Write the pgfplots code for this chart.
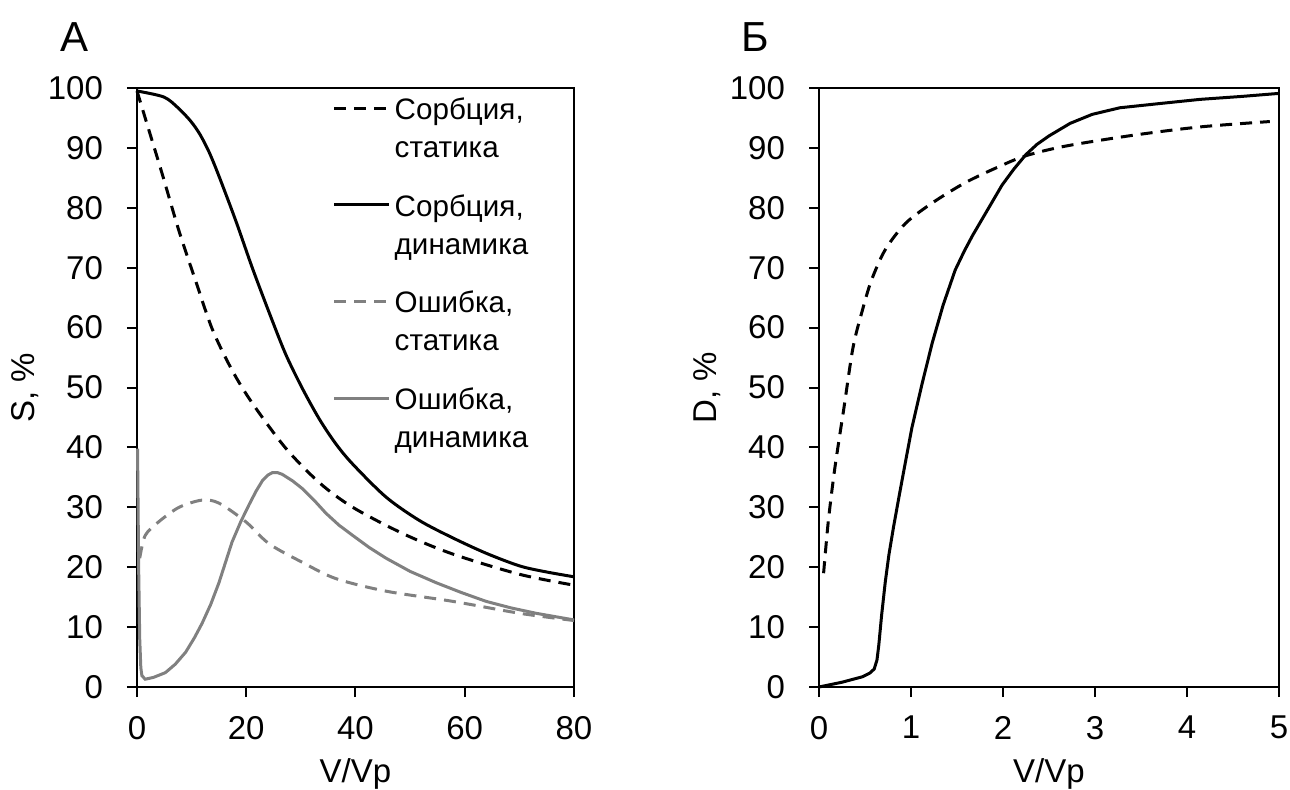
\documentclass[border=0pt]{standalone}
\usepackage{pgfplots}
\pgfplotsset{compat=1.18}
\usepackage{fontspec}
\setmainfont{Liberation Sans}
\definecolor{errgray}{RGB}{128,128,128}
\begin{document}
\begin{tikzpicture}[x=1pt,y=1pt]
\useasboundingbox (-68.5,-51) rectangle (576.5,343.5);
\pgfplotsset{
  myaxis/.style={
    scale only axis,
    height=299.5pt,
    ymin=0, ymax=100,
    ytick={0,10,...,100},
    tick align=outside,
    tick pos=left,
    major tick length=5pt,
    axis line style={line width=1pt},
    every tick/.style={line width=1pt, black},
    tick label style={font=\fontsize{16.5}{19}\selectfont},
    label style={font=\fontsize{16.5}{19}\selectfont},
    /pgf/number format/assume math mode=true,
    yticklabel style={xshift=-8.5pt},
    xticklabel style={yshift=-6pt},
    xlabel={V/Vp},
    xlabel style={at={(axis description cs:0.5,-0.145)}, anchor=center},
    clip=false,
  },
  dashblack/.style={black, line width=1.5pt, dash pattern=on 6pt off 4pt},
  solidblack/.style={black, line width=1.5pt},
}
\begin{axis}[myaxis,
  at={(0,0)}, anchor=origin,
  width=218.5pt,
  xmin=0, xmax=80, xtick={0,20,...,80},
  ylabel={S, \%},
  ylabel style={at={(axis description cs:-0.256,0.5)}, anchor=center},
  legend style={draw=none, fill=none, at={(axis description cs:0.447,0.991)}, anchor=north west,
    font=\fontsize{14.8}{19}\selectfont, row sep=13pt,
    cells={anchor=west, align=left}, inner sep=0pt},
  legend image code/.code={\draw[#1] (0pt,10.5pt) -- (27.5pt,10.5pt);},
]
\addplot[dashblack, smooth, tension=0.5] coordinates {
(0,99.5) (2.1,93.2) (4.6,85.7) (7.7,76.1) (10.7,67.9) (13.8,59.7) (17.4,52.9) (21.1,47.4) (27.2,39.9) (33.4,34.1) (39.5,30.0) (48.7,25.6) (57.8,22.2) (70.1,18.8) (80,17.0)};
\addlegendentry{Сорбция,\\статика}
\addplot[solidblack, smooth, tension=0.5] coordinates {
(0,99.5) (4.9,98.5) (7.5,96.7) (9.8,94.5) (11.5,92.3) (13.2,89.3) (15,85.3) (18.1,77.8) (21.1,70) (24.2,62.5) (27.2,55.6) (30.3,49.8) (33.4,44.7) (36.4,40.6) (39.5,37.2) (45.6,31.7) (51.7,27.8) (57.8,24.9) (64,22.3) (70.1,20.2) (75,19.2) (80,18.4)};
\addlegendentry{Сорбция,\\динамика}
\addplot[errgray, line width=1.5pt, dash pattern=on 6pt off 4pt, smooth, tension=0.5] coordinates {
(0.5,21.5) (1.5,25.3) (4,27.6) (7.7,30) (11.9,31.2) (15,30.7) (19.9,27.6) (24.2,23.9) (30.3,20.8) (36.4,18.1) (45.6,16) (57.8,14.3) (70.1,12.3) (80,11.1)};
\addlegendentry{Ошибка,\\статика}
\addplot[errgray, line width=1.5pt] coordinates {
(0.1,39.8) (0.3,20) (0.5,8) (0.7,3.2) (0.9,1.9) (1.5,1.3) (3,1.6) (5.2,2.4) (7,3.8) (8.9,5.8) (10.5,8.2) (11.9,10.6) (13.5,13.8) (15,17.4) (16.2,20.8) (17.4,24.2) (19,27.6) (20.5,30.4) (21.8,32.7) (23,34.5) (24,35.4) (24.8,35.8) (25.7,35.8) (26.6,35.5) (28.5,34.4) (30.3,33.1) (32.5,31.1) (34.6,29) (37,27) (39.5,25.3) (42.5,23.3) (45.6,21.5) (50,19.3) (54.8,17.4) (59.3,15.8) (63.9,14.3) (68.5,13.2) (73.1,12.3) (80,11.2)};
\addlegendentry{Ошибка,\\динамика}
\node[font=\fontsize{21}{24}\selectfont] at (rel axis cs:-0.142,1.085) {А};
\end{axis}
\begin{axis}[myaxis,
  at={(341pt,0)}, anchor=origin,
  width=230pt,
  xmin=0, xmax=5, xtick={0,1,...,5},
  ylabel={D, \%},
  ylabel style={at={(axis description cs:-0.244,0.5)}, anchor=center},
]
\addplot[dashblack, smooth, tension=0.5] coordinates {
(0.05,19) (0.1,27.5) (0.17,36.3) (0.27,46.5) (0.37,56.7) (0.47,62.8) (0.57,67.9) (0.72,73) (0.94,77.4) (1.23,80.8) (1.59,84.2) (1.96,86.9) (2.25,88.7) (2.68,90.3) (3.41,92.1) (4.14,93.5) (4.9,94.4)};
\addplot[solidblack] coordinates {
(0,0) (0.25,0.8) (0.47,1.7) (0.55,2.3) (0.6,3.0) (0.63,4.5) (0.65,7) (0.68,11.9) (0.72,17.5) (0.76,22.1) (0.81,26.7) (0.87,31.8) (0.94,37.6) (1.01,43.3) (1.12,50.6) (1.23,57.4) (1.35,63.8) (1.48,69.6) (1.58,72.8) (1.67,75.4) (1.83,79.6) (1.99,83.8) (2.12,86.5) (2.25,88.9) (2.37,90.6) (2.5,92) (2.73,94.1) (2.97,95.6) (3.27,96.7) (3.7,97.4) (4.14,98.1) (4.6,98.6) (5,99.1)};
\node[font=\fontsize{21}{24}\selectfont] at (rel axis cs:-0.139,1.085) {Б};
\end{axis}
\end{tikzpicture}
\end{document}
